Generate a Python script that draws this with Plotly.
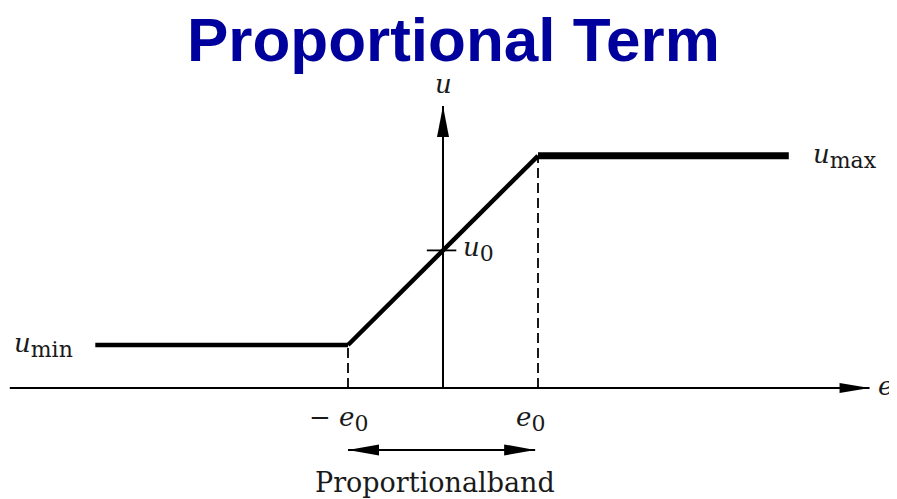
import plotly.graph_objects as go

# ---------------- data (e in units of e0, u in arbitrary units) ----------------
e_curve = [-3.66, -1.0, 1.0, 3.64]
u_curve = [1.0, 1.0, 5.4, 5.4]
e0 = 1.0
u_min = 1.0
u_max = 5.4
u0 = 3.2
e_axis_ext = [-4.56, 4.49]
u_axis_top = 6.56
band_ends = [-1.0, 0.97]
band_level = -1.44
title_text = "Proportional Term"
band_text = "Proportionalband"

# ---------------- scales ----------------
W, H = 897, 499
PAGE_OFF = 8               # page body margin of the html page
OX, OY = 443 - PAGE_OFF, 388 - PAGE_OFF   # pixel position of the origin in figure
SX, SY = 95.0, 43.0        # pixels per unit e / u
x_range = [-OX / SX, (W - OX) / SX]
y_range = [(OY - H) / SY, OY / SY]

def to_px(e, u):
    return OX + SX * e, OY - SY * u

def to_data(px, py):
    return (px - OX) / SX, (OY - py) / SY

def head_path(e, u, dx, dy, L=31, Wd=11):
    tx, ty = to_px(e, u)
    bx, by = tx - L * dx, ty - L * dy
    px_, py_ = -dy, dx
    pts = [(tx, ty), (bx + Wd / 2 * px_, by + Wd / 2 * py_),
           (bx - Wd / 2 * px_, by - Wd / 2 * py_)]
    d = [to_data(*p) for p in pts]
    return "M{},{} L{},{} L{},{} Z".format(*[c for p in d for c in p])

fig = go.Figure()
black = "black"

# axes
fig.add_trace(go.Scatter(x=e_axis_ext, y=[0, 0], mode="lines",
                         line=dict(color=black, width=2), hoverinfo="skip"))
fig.add_trace(go.Scatter(x=[0, 0], y=[0, u_axis_top], mode="lines",
                         line=dict(color=black, width=2), hoverinfo="skip"))

# dashed guides
fig.add_trace(go.Scatter(x=[-e0, -e0], y=[0, u_min], mode="lines",
                         line=dict(color=black, width=1.8, dash="10px,5px"), hoverinfo="skip"))
fig.add_trace(go.Scatter(x=[e0, e0], y=[0, u_max], mode="lines",
                         line=dict(color=black, width=1.8, dash="10px,5px"), hoverinfo="skip"))

# u0 tick
fig.add_trace(go.Scatter(x=[-0.17, 0.14], y=[u0, u0], mode="lines",
                         line=dict(color=black, width=1.8), hoverinfo="skip"))

# characteristic
fig.add_trace(go.Scatter(x=e_curve[0:2], y=u_curve[0:2], mode="lines",
                         line=dict(color=black, width=4.5), hoverinfo="skip"))
fig.add_trace(go.Scatter(x=e_curve[1:3], y=u_curve[1:3], mode="lines",
                         line=dict(color=black, width=4.5), hoverinfo="skip"))
fig.add_trace(go.Scatter(x=e_curve[2:4], y=u_curve[2:4], mode="lines",
                         line=dict(color=black, width=7), hoverinfo="skip"))

# band arrow line
fig.add_trace(go.Scatter(x=band_ends, y=[band_level, band_level], mode="lines",
                         line=dict(color=black, width=2), hoverinfo="skip"))

shapes = [
    dict(type="path", path=head_path(e_axis_ext[1], 0, 1, 0, L=30, Wd=10), xref="x", yref="y",
         fillcolor=black, line=dict(width=0)),
    dict(type="path", path=head_path(0, u_axis_top, 0, -1, L=31, Wd=12), xref="x", yref="y",
         fillcolor=black, line=dict(width=0)),
    dict(type="path", path=head_path(band_ends[0], band_level, -1, 0), xref="x", yref="y",
         fillcolor=black, line=dict(width=0)),
    dict(type="path", path=head_path(band_ends[1], band_level, 1, 0), xref="x", yref="y",
         fillcolor=black, line=dict(width=0)),
]

serif = "DejaVu Serif"
lab_col = "#1a1a1a"
fs = 26

def sub(base, s):
    return "<i>" + base + "</i><sub><span style='font-size:22px'>" + s + "</span></sub>"

def ann(text, e, u, xanchor="center", yanchor="middle", size=fs, family=serif, color=lab_col):
    return dict(text=text, x=e, y=u, xref="x", yref="y", showarrow=False,
                xanchor=xanchor, yanchor=yanchor,
                font=dict(family=family, size=size, color=color))

annotations = [
    dict(text="<b>" + title_text + "</b>", x=(453 - PAGE_OFF) / W, y=1 - (40 - PAGE_OFF) / H,
         xref="paper", yref="paper",
         showarrow=False, xanchor="center", yanchor="middle",
         font=dict(family="Liberation Sans, Arial", size=62, color="#00009C")),
    ann("<i>u</i>", 0, u_axis_top + 0.5),
    ann("<i>e</i>", 4.66, 0.05),
    ann(sub("u", "max"), 3.87, u_max, xanchor="left"),
    ann(sub("u", "min"), -4.54, u_min, xanchor="left"),
    ann(sub("u", "0"), 0.19, u0 + 0.04, xanchor="left"),
    ann("− " + sub("e", "0"), -e0 - 0.1, -0.72),
    ann(sub("e", "0"), e0 - 0.08, -0.72),
    ann(band_text, -0.08, -2.2, size=27),
]

fig.update_layout(
    width=W, height=H, autosize=False,
    margin=dict(l=0, r=0, t=0, b=0),
    paper_bgcolor="white", plot_bgcolor="white",
    showlegend=False,
    xaxis=dict(range=x_range, visible=False, fixedrange=True),
    yaxis=dict(range=y_range, visible=False, fixedrange=True),
    shapes=shapes, annotations=annotations,
)

fig.write_html("out.html")
